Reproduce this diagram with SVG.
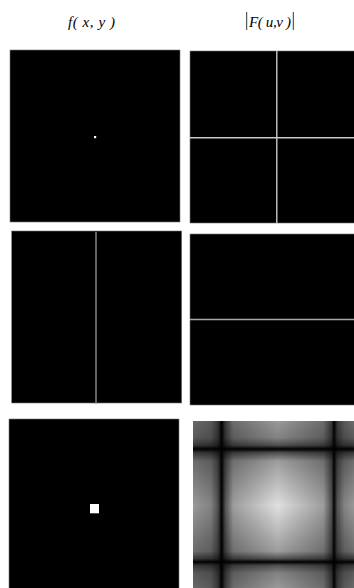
<svg xmlns="http://www.w3.org/2000/svg" width="354" height="588" viewBox="0 0 354 588">
<style>
.title{font-family:"Liberation Serif","Times New Roman",serif;font-style:italic;font-size:15px;fill:#000}
.panel{fill:#000;stroke:#777;stroke-width:0.6}
</style>
<defs>
<linearGradient id="gx" x1="193" y1="0" x2="354" y2="0" gradientUnits="userSpaceOnUse">
<stop offset="0" stop-color="#a4a4a4"/>
<stop offset="0.11" stop-color="#8c8c8c"/>
<stop offset="0.155" stop-color="#555"/>
<stop offset="0.178" stop-color="#000"/>
<stop offset="0.2" stop-color="#555"/>
<stop offset="0.25" stop-color="#a8a8a8"/>
<stop offset="0.527" stop-color="#efefef"/>
<stop offset="0.81" stop-color="#a8a8a8"/>
<stop offset="0.86" stop-color="#555"/>
<stop offset="0.876" stop-color="#000"/>
<stop offset="0.895" stop-color="#555"/>
<stop offset="0.94" stop-color="#8c8c8c"/>
<stop offset="1" stop-color="#a4a4a4"/>
</linearGradient>
<linearGradient id="gy" x1="0" y1="421" x2="0" y2="588" gradientUnits="userSpaceOnUse">
<stop offset="0" stop-color="#a4a4a4"/>
<stop offset="0.1" stop-color="#8c8c8c"/>
<stop offset="0.145" stop-color="#555"/>
<stop offset="0.168" stop-color="#000"/>
<stop offset="0.19" stop-color="#555"/>
<stop offset="0.24" stop-color="#a8a8a8"/>
<stop offset="0.506" stop-color="#efefef"/>
<stop offset="0.78" stop-color="#a8a8a8"/>
<stop offset="0.825" stop-color="#555"/>
<stop offset="0.844" stop-color="#000"/>
<stop offset="0.865" stop-color="#555"/>
<stop offset="0.91" stop-color="#8c8c8c"/>
<stop offset="1" stop-color="#a4a4a4"/>
</linearGradient>
</defs>
<rect width="354" height="588" fill="#fff"/>
<g id="title-f">
<text class="title" x="68" y="27" textLength="47" lengthAdjust="spacing">f( x, y )</text>
</g>
<g id="title-F">
<line x1="246.7" y1="12" x2="246.7" y2="30" stroke="#000" stroke-width="0.8"/>
<text class="title" x="249" y="27" textLength="42" lengthAdjust="spacing">F( u,v )</text>
<line x1="293.3" y1="12" x2="293.3" y2="30" stroke="#000" stroke-width="0.8"/>
</g>
<g id="panel-point">
<rect class="panel" x="10" y="50" width="170" height="172"/>
<rect x="94" y="136" width="2.2" height="2.2" fill="#fff"/>
</g>
<g id="panel-point-ft">
<rect class="panel" x="190" y="51" width="166" height="172"/>
<line x1="276.8" y1="51" x2="276.8" y2="223" stroke="#c8c8c8" stroke-width="1.4"/>
<line x1="190" y1="137.8" x2="354" y2="137.8" stroke="#c8c8c8" stroke-width="1.4"/>
</g>
<g id="panel-line">
<rect class="panel" x="11.7" y="231" width="170" height="172"/>
<line x1="96" y1="232" x2="96" y2="404" stroke="#999" stroke-width="1.3"/>
</g>
<g id="panel-line-ft">
<rect class="panel" x="190" y="234" width="166" height="171"/>
<line x1="190" y1="319.5" x2="354" y2="319.5" stroke="#a8a8a8" stroke-width="1.4"/>
</g>
<g id="panel-square">
<rect class="panel" x="9" y="419" width="170" height="172"/>
<rect x="90" y="504" width="9" height="9.3" fill="#fff"/>
</g>
<g id="panel-square-ft" style="isolation:isolate">
<rect x="193" y="421" width="161" height="167" fill="url(#gx)"/>
<rect x="193" y="421" width="161" height="167" fill="url(#gy)" style="mix-blend-mode:multiply"/>
</g>
<g id="connectors"/>
</svg>
